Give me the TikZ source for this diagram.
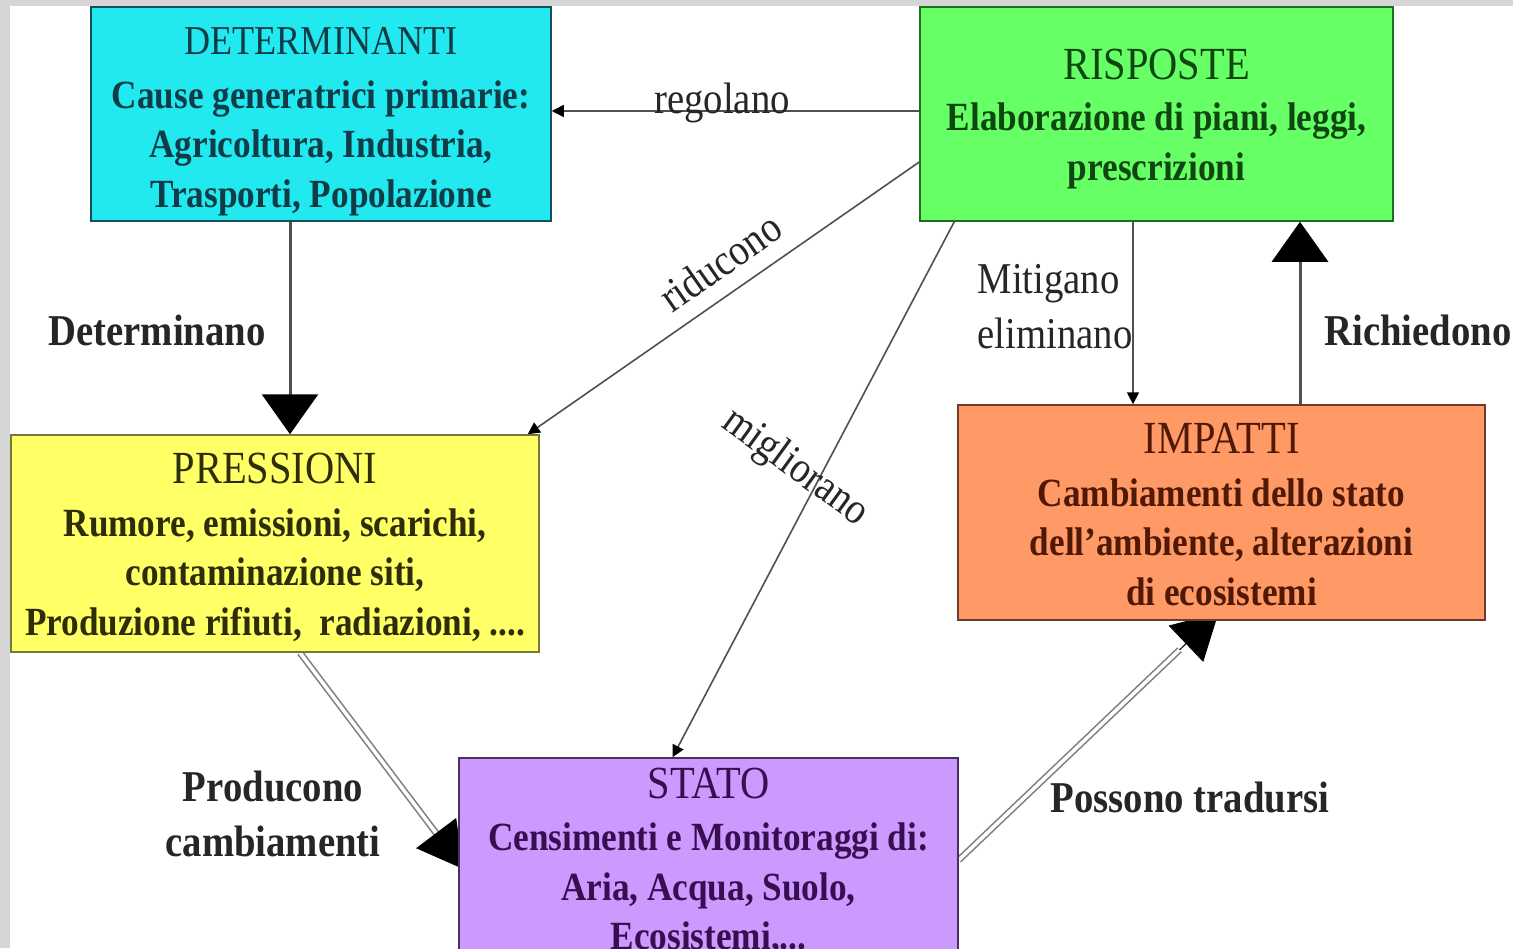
\documentclass[tikz,border=0pt]{standalone}
\usepackage{fontspec}
\setmainfont{Liberation Serif}
\newfontfamily\tnr[FakeStretch=0.88]{Liberation Serif}
\usetikzlibrary{arrows.meta,calc}
\pgfdeclarelayer{back}
\pgfdeclarelayer{bg}
\pgfsetlayers{back,bg,main}
\definecolor{marble}{RGB}{214,214,214}
\definecolor{linegray}{RGB}{80,80,80}
\definecolor{cyanf}{RGB}{34,232,240}
\definecolor{cyand}{RGB}{20,80,90}
\definecolor{cyant}{RGB}{15,60,70}
\definecolor{greenf}{RGB}{102,255,102}
\definecolor{greend}{RGB}{30,110,30}
\definecolor{greent}{RGB}{15,70,15}
\definecolor{yellowf}{RGB}{255,255,102}
\definecolor{yellowd}{RGB}{120,120,60}
\definecolor{yellowt}{RGB}{45,45,10}
\definecolor{orangef}{RGB}{255,153,102}
\definecolor{oranged}{RGB}{110,60,40}
\definecolor{oranget}{RGB}{80,25,5}
\definecolor{purplef}{RGB}{204,153,255}
\definecolor{purpled}{RGB}{70,50,90}
\definecolor{purplet}{RGB}{55,15,80}
\newcommand{\bodyf}{\tnr\bfseries\fontsize{40}{49.5}\selectfont}
\newcommand{\hdf}{\mdseries\fontsize{46}{52}\selectfont}
\newcommand{\hdsmall}{\mdseries\fontsize{41}{52}\selectfont}
\newcommand{\labf}{\tnr\fontsize{44}{55}\selectfont}
\newcommand{\blabf}{\tnr\bfseries\fontsize{44}{55}\selectfont}
% shifted multi-line box text: #1 = downward shift, #2 = lines
\newcommand{\boxtext}[2]{\raisebox{-#1}[\height][\depth]{\begin{tabular}{@{}c@{}}#2\end{tabular}}}
\begin{document}
\begin{tikzpicture}[x=1pt,y=-1pt,
  box/.style={draw, line width=1.5pt, inner sep=0pt, font=\bodyf},
  lab/.style={font=\labf, inner sep=0pt, text=black!85},
  blab/.style={font=\blabf, inner sep=0pt, text=black!85},
  thinarr/.style={draw=linegray, line width=1.6pt, -{Triangle[length=12pt,width=12pt,color=black]}},
  bigarr/.style={draw=linegray, line width=3pt, -{Triangle[length=40pt,width=56pt,color=black]}},
  dbl/.style={draw=gray, double=white, double distance=3.5pt, line width=1.6pt},
  headtip/.style={draw=black, line width=1pt, -{Triangle[length=45pt,width=50pt,color=black]}}
]
\useasboundingbox (0,0) rectangle (1513,948);
\clip (0,0) rectangle (1513,948);
\begin{pgfonlayer}{back}
\fill[marble] (0,0) rectangle (1513,948);
\fill[white] (10,6) rectangle (1513,948);
\end{pgfonlayer}

% boxes
\node[box, fill=cyanf, draw=cyand, text=cyant, minimum width=460pt, minimum height=214pt] (det) at (321,114)
  {\boxtext{7pt}{{\hdsmall DETERMINANTI}\\[4pt] Cause generatrici primarie:\\ Agricoltura, Industria,\\ Trasporti, Popolazione}};
\node[box, fill=greenf, draw=greend, text=greent, minimum width=473pt, minimum height=214pt] (ris) at (1156.5,114)
  {\boxtext{6pt}{{\hdf RISPOSTE}\\[2pt] Elaborazione di piani, leggi,\\ prescrizioni}};
\node[box, fill=yellowf, draw=yellowd, text=yellowt, minimum width=528pt, minimum height=217pt] (pre) at (275,543.5)
  {\boxtext{6pt}{{\hdf PRESSIONI}\\[3pt] Rumore, emissioni, scarichi,\\ contaminazione siti,\\ Produzione rifiuti,\ \ radiazioni, ....}};
\node[box, fill=orangef, draw=oranged, text=oranget, minimum width=527pt, minimum height=215pt] (imp) at (1221.5,512.5)
  {\boxtext{7pt}{{\hdf IMPATTI}\\[3pt] Cambiamenti dello stato\\ dell’ambiente, alterazioni\\ di ecosistemi}};
\node[box, fill=purplef, draw=purpled, text=purplet, minimum width=499pt, minimum height=204pt] (sta) at (708.5,860)
  {\boxtext{4pt}{{\hdf STATO}\\[3pt] Censimenti e Monitoraggi di:\\ Aria, Acqua, Suolo,\\ Ecosistemi,...}};

% connectors
\draw[bigarr] ([xshift=-31pt]det.south) -- ([xshift=-31pt]det.south |- pre.north);
\draw[thinarr] ([yshift=3pt]ris.west) -- ([yshift=3pt]det.east);
\draw[thinarr] ([yshift=-48pt]ris.west) -- ([xshift=-12pt]pre.north east);
\draw[thinarr] ([xshift=35pt]ris.south west) -- ([xshift=-36pt]sta.north);
\coordinate (m1) at ([xshift=-23.5pt]ris.south);
\draw[thinarr] (m1) -- (m1 |- imp.north);
\coordinate (r1) at ([xshift=78.5pt]imp.north);
\draw[bigarr] (r1) -- (r1 |- ris.south);

\begin{pgfonlayer}{bg}
\coordinate (p1) at ([xshift=25pt]pre.south);
\coordinate (p2) at ([xshift=5pt,yshift=-9pt]sta.west);
\draw[dbl] (p1) -- ($(p1)!0.85!(p2)$);
\draw[headtip] ($(p1)!0.85!(p2)$) -- (p2);
\coordinate (s1) at (sta.east);
\coordinate (s2) at ([xshift=-3pt,yshift=8pt]imp.south);
\draw[dbl] (s1) -- ($(s1)!0.85!(s2)$);
\draw[headtip] ($(s1)!0.85!(s2)$) -- (s2);
\end{pgfonlayer}

% labels
\node[blab] (ldet) at (157,330) {Determinano};
\node[lab] (lreg) at (722,103) {regolano};
\node[lab, rotate=35] (lrid) at (720,262) {riducono};
\node[lab, rotate=-36] (lmig) at (795,468) {migliorano};
\node[lab, align=left] (lmit) at (1055,307) {Mitigano\\eliminano};
\node[blab] (lric) at (1418,330) {Richiedono};
\node[blab, align=center] (lpro) at (273,814) {Producono\\cambiamenti};
\node[blab] (lpos) at (1190,797) {Possono tradursi};
\end{tikzpicture}
\end{document}
